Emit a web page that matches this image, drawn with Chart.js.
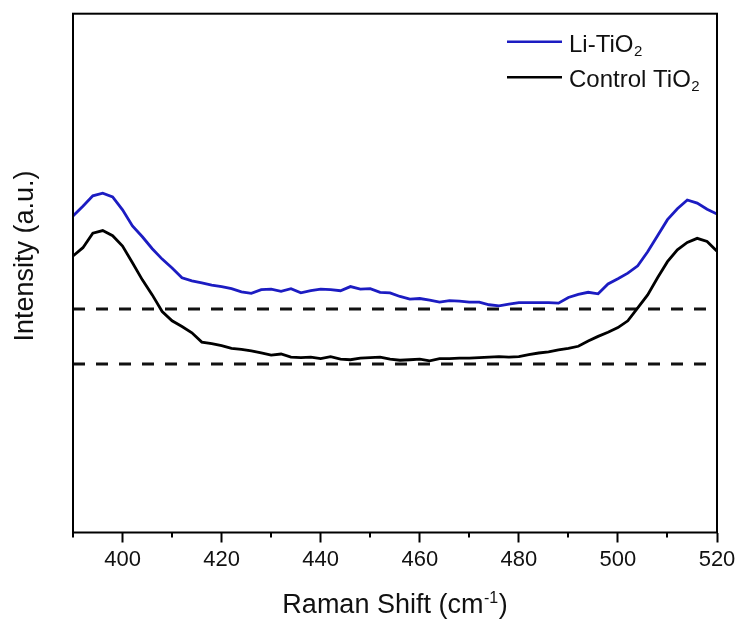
<!DOCTYPE html>
<html>
<head>
<meta charset="utf-8">
<script src="https://cdn.jsdelivr.net/npm/chart.js@4.4.1/dist/chart.umd.min.js"></script>
<style>
html,body{margin:0;padding:0;background:#fff}
#wrap{width:740px;height:619px;position:relative}
</style>
</head>
<body>
<div id="wrap"><canvas id="c"></canvas></div>
<script>
// ---- data ----
const ramanShift = [390,392,394,396,398,400,402,404,406,408,410,412,414,416,418,420,422,424,426,428,430,432,434,436,438,440,442,444,446,448,450,452,454,456,458,460,462,464,466,468,470,472,474,476,478,480,482,484,486,488,490,492,494,496,498,500,502,504,506,508,510,512,514,516,518,520];
const liTiO2 = [61.0,62.9,64.9,65.4,64.7,62.2,59.1,57.0,54.7,52.7,51.0,49.1,48.5,48.1,47.7,47.4,47.0,46.4,46.1,46.8,46.9,46.5,47.0,46.2,46.6,46.9,46.8,46.6,47.4,46.9,47.0,46.3,46.2,45.5,45.0,45.1,44.8,44.4,44.7,44.6,44.4,44.4,43.9,43.7,44.0,44.3,44.3,44.3,44.3,44.2,45.3,45.9,46.3,46.0,47.9,48.9,50.0,51.4,54.1,57.2,60.3,62.4,64.1,63.5,62.3,61.4];
const controlTiO2 = [53.3,54.9,57.7,58.2,57.2,55.2,52.0,48.7,45.8,42.6,40.8,39.7,38.5,36.7,36.4,36.0,35.5,35.3,35.0,34.6,34.2,34.4,33.8,33.7,33.8,33.5,33.9,33.4,33.3,33.6,33.7,33.8,33.4,33.2,33.3,33.4,33.1,33.5,33.5,33.6,33.6,33.7,33.8,33.9,33.8,33.9,34.3,34.6,34.8,35.2,35.5,35.9,36.9,37.8,38.6,39.5,40.8,43.3,45.8,49.1,52.2,54.5,55.9,56.7,56.1,54.2];
const baselineLevels = [43.1, 32.5];      // dashed reference levels
const baselineSpan = [390, 518];          // x extent of dashed lines
const majorTicks = [400,420,440,460,480,500,520];
const minorTicks = [390,410,430,450,470,490,510];
const seriesNames = ['Li-TiO\u2082', 'Control TiO\u2082'];
const xTitle = ['Raman Shift (cm', '-1', ')'];
const yTitle = 'Intensity (a.u.)';

const FONT = "'Liberation Sans', Arial, sans-serif";
const BLUE = '#1c1cc2';
const BLACK = '#000000';

const toPts = (ys) => ramanShift.map((x, i) => ({x, y: ys[i]}));
const dashPts = (lvl) => baselineSpan.map(x => ({x, y: lvl}));

const decorPlugin = {
  id: 'decor',
  afterDraw(chart) {
    const ctx = chart.ctx;
    const a = chart.chartArea;
    const xs = chart.scales.x;
    ctx.save();
    // frame
    ctx.strokeStyle = '#000';
    ctx.lineWidth = 2;
    ctx.strokeRect(a.left, a.top, a.right - a.left, a.bottom - a.top);
    // minor ticks
    minorTicks.forEach(v => {
      const px = Math.round(xs.getPixelForValue(v));
      ctx.beginPath();
      ctx.moveTo(px, a.bottom);
      ctx.lineTo(px, a.bottom + 5);
      ctx.stroke();
    });
    // x title with superscript
    ctx.fillStyle = '#111';
    ctx.textBaseline = 'alphabetic';
    ctx.textAlign = 'left';
    const mainF = "27px " + FONT, supF = "16px " + FONT;
    ctx.font = mainF; const w1 = ctx.measureText(xTitle[0]).width; const w3 = ctx.measureText(xTitle[2]).width;
    ctx.font = supF; const w2 = ctx.measureText(xTitle[1]).width;
    const cx = (a.left + a.right) / 2;
    let sx = cx - (w1 + w2 + w3 + 1) / 2;
    const by = 613;
    ctx.font = mainF; ctx.fillText(xTitle[0], sx, by); sx += w1 + 0.5;
    ctx.font = supF; ctx.fillText(xTitle[1], sx, by - 10); sx += w2 + 0.5;
    ctx.font = mainF; ctx.fillText(xTitle[2], sx, by);
    // y title
    ctx.save();
    ctx.translate(33, 256);
    ctx.rotate(-Math.PI / 2);
    ctx.textAlign = 'center';
    ctx.font = mainF;
    ctx.fillText(yTitle, 0, 0);
    ctx.restore();
    // legend
    const items = [
      {name: seriesNames[0], color: BLUE, ly: 41.7, base: 51.7},
      {name: seriesNames[1], color: BLACK, ly: 77.3, base: 86.5}
    ];
    items.forEach(it => {
      ctx.strokeStyle = it.color;
      ctx.lineWidth = 2.5;
      ctx.beginPath();
      ctx.moveTo(507, it.ly);
      ctx.lineTo(562, it.ly);
      ctx.stroke();
      const main = it.name.replace('\u2082', '');
      ctx.fillStyle = '#111';
      ctx.textAlign = 'left';
      ctx.font = "24px " + FONT;
      ctx.fillText(main, 569, it.base);
      const mw = ctx.measureText(main).width;
      ctx.font = "15px " + FONT;
      ctx.fillText('2', 569 + mw + 0.5, it.base + 4);
    });
    ctx.restore();
  }
};

new Chart(document.getElementById('c'), {
  type: 'line',
  data: {
    datasets: [
      {label: seriesNames[0], data: toPts(liTiO2), borderColor: BLUE, borderWidth: 2.8, pointRadius: 0, tension: 0, fill: false},
      {label: seriesNames[1], data: toPts(controlTiO2), borderColor: BLACK, borderWidth: 2.8, pointRadius: 0, tension: 0, fill: false},
      {label: 'baseline 1', data: dashPts(baselineLevels[0]), borderColor: '#111', borderWidth: 3, borderDash: [12, 11], pointRadius: 0, fill: false},
      {label: 'baseline 2', data: dashPts(baselineLevels[1]), borderColor: '#111', borderWidth: 3, borderDash: [12, 11], pointRadius: 0, fill: false}
    ]
  },
  options: {
    responsive: true,
    maintainAspectRatio: false,
    animation: false,
    layout: {padding: {top: 13.7, right: 23, left: 0, bottom: 0}},
    plugins: {legend: {display: false}, tooltip: {enabled: false}},
    scales: {
      x: {
        type: 'linear', min: 390, max: 520,
        afterBuildTicks: (s) => { s.ticks = majorTicks.map(v => ({value: v})); },
        afterFit: (s) => { s.height = 86.5; },
        border: {display: false},
        grid: {drawOnChartArea: false, drawTicks: true, tickLength: 10, color: '#000', tickWidth: 2},
        ticks: {font: {family: FONT, size: 22}, color: '#111', padding: 4, maxRotation: 0, autoSkip: false},
        title: {display: false}
      },
      y: {
        type: 'linear', min: 0, max: 100,
        afterFit: (s) => { s.width = 73; },
        border: {display: false},
        grid: {display: false},
        ticks: {display: false},
        title: {display: false}
      }
    }
  },
  plugins: [decorPlugin]
});
</script>
</body>
</html>
